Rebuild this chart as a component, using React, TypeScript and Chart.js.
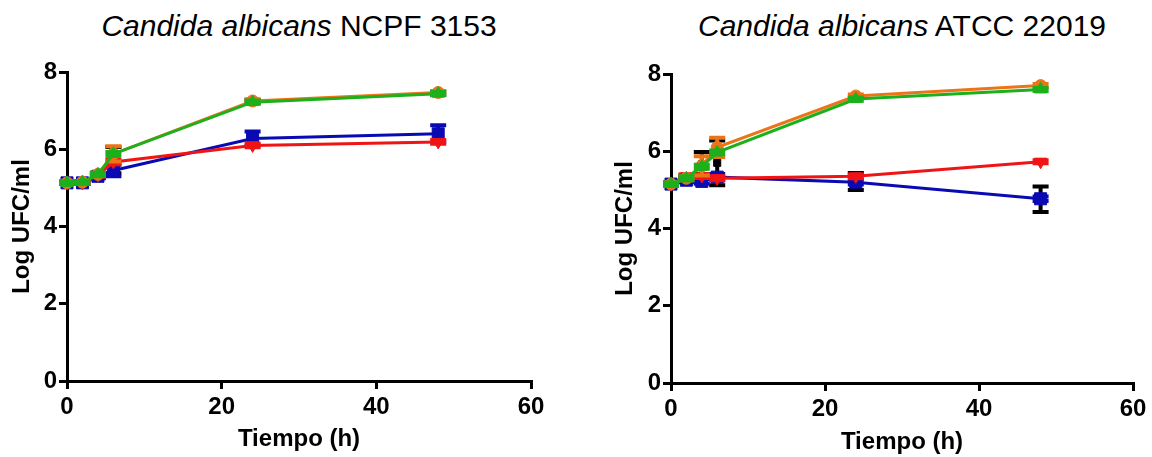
import React, { useEffect, useRef } from "react";
import { Chart, registerables } from "chart.js";

Chart.register(...registerables);

// Sampling times (h)
const times = [0, 2, 4, 6, 24, 48];
const xTicks = [0, 20, 40, 60];
const yTicks = [0, 2, 4, 6, 8];

// NCPF 3153 — log CFU/ml
const ncpfBlue = [5.13, 5.13, 5.3, 5.45, 6.28, 6.4];
const ncpfBlueErr = [0.03, 0.03, 0.05, 0.15, 0.18, 0.22];
const ncpfRed = [5.13, 5.13, 5.33, 5.67, 6.1, 6.19];
const ncpfRedErr = [0.03, 0.03, 0.04, 0.06, 0.05, 0.05];
const ncpfOrange = [5.13, 5.15, 5.35, 5.88, 7.25, 7.47];
const ncpfOrangeErr = [0.03, 0.03, 0.04, 0.2, 0.04, 0.04];
const ncpfGreen = [5.13, 5.15, 5.35, 5.88, 7.22, 7.44];
const ncpfGreenErr = [0.03, 0.03, 0.04, 0.05, 0.04, 0.04];
const ncpfBlack = [5.13, 5.15, 5.35, 5.72, 7.24, 7.45];
const ncpfBlackErr = [0.03, 0.03, 0.04, 0.34, 0.04, 0.04];

// ATCC 22019 — log CFU/ml
const atccBlue = [5.15, 5.25, 5.22, 5.33, 5.2, 4.77];
const atccBlueErr = [0.04, 0.05, 0.06, 0.08, 0.06, 0.06];
const atccRed = [5.15, 5.35, 5.36, 5.3, 5.35, 5.73];
const atccRedErr = [0.04, 0.05, 0.05, 0.05, 0.05, 0.04];
const atccOrange = [5.15, 5.3, 5.62, 6.1, 7.43, 7.7];
const atccOrangeErr = [0.04, 0.05, 0.25, 0.25, 0.04, 0.04];
const atccGreen = [5.15, 5.3, 5.6, 5.97, 7.35, 7.6];
const atccGreenErr = [0.04, 0.05, 0.05, 0.05, 0.04, 0.04];
const atccBlack = [5.15, 5.3, 5.66, 5.7, 5.22, 4.76];
const atccBlackErr = [0.04, 0.05, 0.32, 0.58, 0.22, 0.33];

const BLUE = "#0a0ab4";
const RED = "#f01414";
const ORANGE = "#ec7418";
const GREEN = "#1cb01c";
const BLACK = "#000000";

const FONT = "'Liberation Sans', Arial, Helvetica, sans-serif";

type Panel = {
  title: string;
  strain: string;
  canvasLeft: number;
  plotLeft: number;
  plotRight: number;
  plotTop: number;
  plotBottom: number;
  yTitleX: number;
  xTitlePad: number;
  blue: number[];
  blueErr: number[];
  red: number[];
  redErr: number[];
  orange: number[];
  orangeErr: number[];
  green: number[];
  greenErr: number[];
  black: number[];
  blackErr: number[];
};

const PANEL_W = 576;
const PANEL_H = 457;
const TICK_SIZE = 24;
const AXIS_TITLE_SIZE = 24;

const panels: Panel[] = [
  {
    title: "Candida albicans",
    strain: "NCPF 3153",
    canvasLeft: 0,
    plotLeft: 67,
    plotRight: 531,
    plotTop: 72,
    plotBottom: 381,
    yTitleX: 22,
    xTitlePad: 3,
    blue: ncpfBlue,
    blueErr: ncpfBlueErr,
    red: ncpfRed,
    redErr: ncpfRedErr,
    orange: ncpfOrange,
    orangeErr: ncpfOrangeErr,
    green: ncpfGreen,
    greenErr: ncpfGreenErr,
    black: ncpfBlack,
    blackErr: ncpfBlackErr,
  },
  {
    title: "Candida albicans",
    strain: "ATCC 22019",
    canvasLeft: 576,
    plotLeft: 95,
    plotRight: 557,
    plotTop: 74,
    plotBottom: 383,
    yTitleX: 49,
    xTitlePad: 0,
    blue: atccBlue,
    blueErr: atccBlueErr,
    red: atccRed,
    redErr: atccRedErr,
    orange: atccOrange,
    orangeErr: atccOrangeErr,
    green: atccGreen,
    greenErr: atccGreenErr,
    black: atccBlack,
    blackErr: atccBlackErr,
  },
];

// Draws each dataset's error bars just before the dataset itself, so markers sit on top.
const errorBarPlugin = {
  id: "errorBars",
  beforeDatasetDraw(chart: any, args: any) {
    const ds = chart.data.datasets[args.index];
    const errs: number[] | undefined = ds.errors;
    if (!errs) return;
    const meta = args.meta;
    const yScale = chart.scales.y;
    const ctx = chart.ctx;
    ctx.save();
    ctx.strokeStyle = ds.errorColor || ds.borderColor;
    ctx.lineWidth = 4;
    ctx.lineCap = "butt";
    meta.data.forEach((pt: any, i: number) => {
      const v = ds.data[i].y;
      const e = errs[i];
      if (!e) return;
      const yTop = yScale.getPixelForValue(v + e);
      const yBot = yScale.getPixelForValue(v - e);
      const x = pt.x;
      const cap = 8;
      ctx.beginPath();
      ctx.moveTo(x, yTop);
      ctx.lineTo(x, yBot);
      ctx.moveTo(x - cap, yTop);
      ctx.lineTo(x + cap, yTop);
      ctx.moveTo(x - cap, yBot);
      ctx.lineTo(x + cap, yBot);
      ctx.stroke();
    });
    ctx.restore();
  },
};

function series(
  values: number[],
  errors: number[],
  color: string,
  style: string,
  radius: number,
  rotation = 0,
  errorColor?: string,
  showLine = true
) {
  return {
    data: times.map((t, i) => ({ x: t, y: values[i] })),
    errors,
    errorColor: errorColor || color,
    borderColor: color,
    backgroundColor: color,
    pointBackgroundColor: color,
    pointBorderColor: color,
    pointBorderWidth: 1,
    borderWidth: 3,
    pointStyle: style,
    pointRadius: radius,
    pointRotation: rotation,
    showLine,
    tension: 0,
    clip: false,
  };
}

function PanelChart({ p }: { p: Panel }) {
  const ref = useRef<HTMLCanvasElement | null>(null);

  useEffect(() => {
    if (!ref.current) return;
    const tickFont = { family: FONT, size: TICK_SIZE, weight: "bold" as const };
    const titleFont = { family: FONT, size: AXIS_TITLE_SIZE, weight: "bold" as const };
    const xAxisH = PANEL_H - p.plotBottom;
    const padLeft = Math.round(p.yTitleX - (AXIS_TITLE_SIZE * 1.2) / 2);
    const chart = new Chart(ref.current, {
      type: "line",
      data: {
        // first dataset is painted last (on top)
        datasets: [
          series(p.green, p.greenErr, GREEN, "triangle", 7),
          series(p.orange, p.orangeErr, ORANGE, "circle", 6),
          series(p.red, p.redErr, RED, "triangle", 7, 180),
          series(p.blue, p.blueErr, BLUE, "rect", 8.5),
          series(p.black, p.blackErr, BLACK, "rect", 5, 0, BLACK, false),
        ] as any,
      },
      options: {
        animation: false,
        responsive: false,
        maintainAspectRatio: false,
        layout: {
          padding: {
            top: p.plotTop,
            right: PANEL_W - p.plotRight,
            bottom: 0,
            left: padLeft,
          },
        },
        plugins: {
          legend: { display: false },
          tooltip: { enabled: false },
          title: { display: false },
        },
        scales: {
          x: {
            type: "linear",
            min: 0,
            max: 60,
            afterBuildTicks: (s: any) => {
              s.ticks = xTicks.map((v) => ({ value: v }));
            },
            afterFit: (s: any) => {
              s.height = xAxisH;
            },
            ticks: { font: tickFont, color: "#000", padding: 4, maxRotation: 0 },
            grid: {
              drawOnChartArea: false,
              color: "#000",
              lineWidth: 3,
              tickLength: 8,
            },
            border: { color: "#000", width: 3 },
            title: {
              display: true,
              text: "Tiempo (h)",
              font: titleFont,
              color: "#000",
              padding: { top: 4, bottom: p.xTitlePad },
            },
          },
          y: {
            type: "linear",
            min: 0,
            max: 8,
            afterBuildTicks: (s: any) => {
              s.ticks = yTicks.map((v) => ({ value: v }));
            },
            afterFit: (s: any) => {
              s.width = p.plotLeft - padLeft;
            },
            ticks: { font: tickFont, color: "#000", padding: 2 },
            grid: {
              drawOnChartArea: false,
              color: "#000",
              lineWidth: 3,
              tickLength: 8,
            },
            border: { color: "#000", width: 3 },
            title: {
              display: true,
              text: "Log UFC/ml",
              font: titleFont,
              color: "#000",
              padding: { top: 0, bottom: 0 },
            },
          },
        },
      },
      plugins: [errorBarPlugin],
    });
    return () => chart.destroy();
  }, [p]);

  const plotW = p.plotRight - p.plotLeft;
  return (
    <div
      style={{
        position: "absolute",
        left: p.canvasLeft,
        top: 0,
        width: PANEL_W,
        height: PANEL_H,
      }}
    >
      <div
        style={{
          position: "absolute",
          left: p.plotLeft - 60,
          width: plotW + 120,
          top: 11,
          textAlign: "center",
          fontFamily: FONT,
          fontSize: 30,
          lineHeight: "30px",
          color: "#000",
          whiteSpace: "nowrap",
        }}
      >
        <i>{p.title}</i> {p.strain}
      </div>
      <canvas
        ref={ref}
        width={PANEL_W}
        height={PANEL_H}
        style={{ position: "absolute", left: 0, top: 0, width: PANEL_W, height: PANEL_H }}
      />
    </div>
  );
}

export default function App() {
  return (
    <div
      style={{
        position: "fixed",
        left: 0,
        top: 0,
        width: 1152,
        height: 457,
        background: "#fff",
        overflow: "hidden",
      }}
    >
      {panels.map((p) => (
        <PanelChart key={p.strain} p={p} />
      ))}
    </div>
  );
}
